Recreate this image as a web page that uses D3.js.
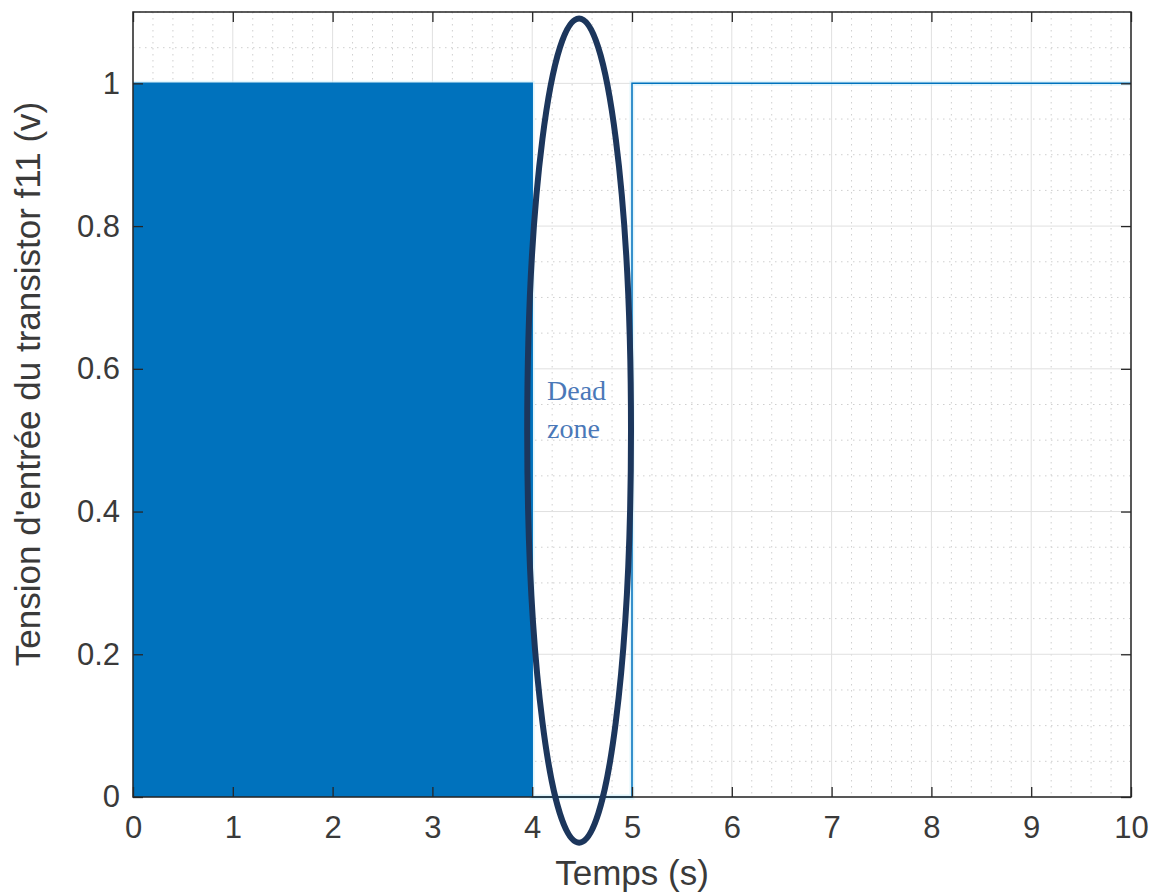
<!DOCTYPE html>
<html>
<head>
<meta charset="utf-8">
<script src="https://cdn.jsdelivr.net/npm/d3@7"></script>
<style>
  html, body { margin: 0; padding: 0; background: #ffffff; }
  svg { display: block; }
</style>
</head>
<body>
<svg id="chart" width="1153" height="894"></svg>
<script>
// Gate signal of transistor f11: fast switching (PWM) band, dead zone, then constant high level
const pwmStart = 0;          // s, start of the switching band
const pwmEnd = 4;            // s, end of the switching band
const pwmLow = 0;            // V
const pwmHigh = 1;           // V
const stepTime  = [0, 4, 4, 5, 5, 10];   // s
const stepLevel = [1, 1, 0, 0, 1, 1];    // V

const deadZoneLabel = ["Dead", "zone"];
const deadZoneTime = [3.95, 4.99];       // horizontal extent of the highlight ellipse (s)
const deadZoneLevel = [-0.064, 1.091];   // vertical extent of the highlight ellipse (V)

const xTicks = [0, 1, 2, 3, 4, 5, 6, 7, 8, 9, 10];
const xTickLabels = ["0", "1", "2", "3", "4", "5", "6", "7", "8", "9", "10"];
const yTicks = [0, 0.2, 0.4, 0.6, 0.8, 1];
const yTickLabels = ["0", "0.2", "0.4", "0.6", "0.8", "1"];
const xDomain = [0, 10];
const yDomain = [0, 1.1];
const xMinorStep = 0.2;
const yMinorStep = 0.05;

const xTitle = "Temps (s)";
const yTitle = "Tension d'entrée du transistor f11 (v)";

const svg = d3.select("#chart");
const plotLeft = 133, plotRight = 1131, plotTop = 12, plotBottom = 797;

const x = d3.scaleLinear().domain(xDomain).range([plotLeft, plotRight]);
const y = d3.scaleLinear().domain(yDomain).range([plotBottom, plotTop]);

const axisColor = "#262626";
const labelColor = "#3a3a3a";
const lineColor = "#0072BD";

// grid: minor dotted, major solid
const grid = svg.append("g");
const xMinor = d3.range(xDomain[0], xDomain[1] + 1e-9, xMinorStep).filter(v => Math.abs(v - Math.round(v)) > 1e-6);
const yMinor = d3.range(yDomain[0], yDomain[1] + 1e-9, yMinorStep).filter(v => Math.abs(v / 0.2 - Math.round(v / 0.2)) > 1e-6);

grid.selectAll("line.xminor").data(xMinor).join("line")
  .attr("x1", d => x(d)).attr("x2", d => x(d))
  .attr("y1", plotTop).attr("y2", plotBottom)
  .attr("stroke", "#cfcfcf").attr("stroke-width", 1).attr("stroke-dasharray", "1.5,4.5");
grid.selectAll("line.yminor").data(yMinor).join("line")
  .attr("y1", d => y(d)).attr("y2", d => y(d))
  .attr("x1", plotLeft).attr("x2", plotRight)
  .attr("stroke", "#cfcfcf").attr("stroke-width", 1).attr("stroke-dasharray", "1.5,4.5");
grid.selectAll("line.xmajor").data(xTicks).join("line")
  .attr("x1", d => x(d)).attr("x2", d => x(d))
  .attr("y1", plotTop).attr("y2", plotBottom)
  .attr("stroke", "#e0e0e0").attr("stroke-width", 1);
grid.selectAll("line.ymajor").data(yTicks).join("line")
  .attr("y1", d => y(d)).attr("y2", d => y(d))
  .attr("x1", plotLeft).attr("x2", plotRight)
  .attr("stroke", "#e0e0e0").attr("stroke-width", 1);

// step trace and its soft edge
const trace = d3.line()
  .x((d, i) => x(stepTime[i]))
  .y(d => y(d));
svg.append("path")
  .datum(stepLevel)
  .attr("d", trace)
  .attr("fill", "none")
  .attr("stroke", "#cdeefa")
  .attr("stroke-width", 5)
  .attr("stroke-opacity", 0.6);

// switching band: the PWM toggles faster than the pixel grid, so it renders as a solid block
const band = d3.area()
  .x(d => x(d))
  .y0(y(pwmLow))
  .y1(y(pwmHigh));
svg.append("path")
  .datum([pwmStart, pwmEnd])
  .attr("d", band)
  .attr("fill", lineColor);

svg.append("path")
  .datum(stepLevel)
  .attr("d", trace)
  .attr("fill", "none")
  .attr("stroke", lineColor)
  .attr("stroke-width", 1.5);

// axes box
svg.append("rect")
  .attr("x", plotLeft).attr("y", plotTop)
  .attr("width", plotRight - plotLeft).attr("height", plotBottom - plotTop)
  .attr("fill", "none").attr("stroke", axisColor).attr("stroke-width", 1.5);

const tickLen = 10;
const axisFont = "'Liberation Sans', Arial, Helvetica, sans-serif";
const tickFontSize = 31;

// bottom axis with inward ticks
const xAxis = d3.axisBottom(x).tickValues(xTicks)
  .tickFormat((d, i) => xTickLabels[i])
  .tickSizeInner(-tickLen).tickSizeOuter(0).tickPadding(19);
const gx = svg.append("g").attr("transform", `translate(0,${plotBottom})`).call(xAxis);
gx.select(".domain").remove();
gx.selectAll(".tick line").attr("stroke", axisColor).attr("stroke-width", 1.3);
gx.selectAll(".tick text").attr("fill", labelColor)
  .attr("font-family", axisFont).attr("font-size", tickFontSize);

// top ticks
const xTop = d3.axisTop(x).tickValues(xTicks).tickFormat("")
  .tickSizeInner(-tickLen).tickSizeOuter(0);
const gxt = svg.append("g").attr("transform", `translate(0,${plotTop})`).call(xTop);
gxt.select(".domain").remove();
gxt.selectAll(".tick line").attr("stroke", axisColor).attr("stroke-width", 1.3);

// left axis with inward ticks
const yAxis = d3.axisLeft(y).tickValues(yTicks)
  .tickFormat((d, i) => yTickLabels[i])
  .tickSizeInner(-tickLen).tickSizeOuter(0).tickPadding(13);
const gy = svg.append("g").attr("transform", `translate(${plotLeft},0)`).call(yAxis);
gy.select(".domain").remove();
gy.selectAll(".tick line").attr("stroke", axisColor).attr("stroke-width", 1.3);
gy.selectAll(".tick text").attr("fill", labelColor)
  .attr("font-family", axisFont).attr("font-size", tickFontSize);

// right ticks
const yRight = d3.axisRight(y).tickValues(yTicks).tickFormat("")
  .tickSizeInner(-tickLen).tickSizeOuter(0);
const gyr = svg.append("g").attr("transform", `translate(${plotRight},0)`).call(yRight);
gyr.select(".domain").remove();
gyr.selectAll(".tick line").attr("stroke", axisColor).attr("stroke-width", 1.3);

// axis titles
svg.append("text")
  .attr("x", (plotLeft + plotRight) / 2).attr("y", 885)
  .attr("text-anchor", "middle")
  .attr("font-family", axisFont).attr("font-size", 35)
  .attr("fill", labelColor)
  .text(xTitle);

svg.append("text")
  .attr("transform", `translate(40,384) rotate(-90)`)
  .attr("text-anchor", "middle")
  .attr("font-family", axisFont).attr("font-size", 35)
  .attr("fill", labelColor)
  .text(yTitle);

// dead zone highlight
const cx = x((deadZoneTime[0] + deadZoneTime[1]) / 2);
const cy = y((deadZoneLevel[0] + deadZoneLevel[1]) / 2);
svg.append("ellipse")
  .attr("cx", cx).attr("cy", cy)
  .attr("rx", (x(deadZoneTime[1]) - x(deadZoneTime[0])) / 2)
  .attr("ry", (y(deadZoneLevel[0]) - y(deadZoneLevel[1])) / 2)
  .attr("fill", "none")
  .attr("stroke", "#1c365c")
  .attr("stroke-width", 6);

svg.append("text")
  .attr("font-family", "'Liberation Serif', 'Times New Roman', serif")
  .attr("font-size", 28)
  .attr("fill", "#4a78b8")
  .selectAll("tspan")
  .data(deadZoneLabel)
  .join("tspan")
  .attr("x", 547)
  .attr("y", (d, i) => 400 + i * 38)
  .text(d => d);
</script>
</body>
</html>
